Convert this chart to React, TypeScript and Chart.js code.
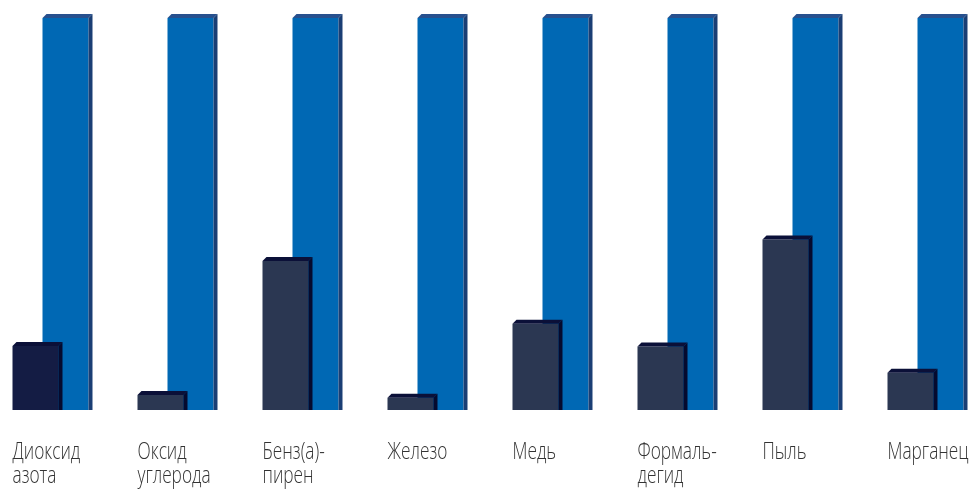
import React, { useEffect, useRef } from "react";
import { Chart, registerables } from "chart.js";

Chart.register(...registerables);

const categories: string[][] = [
  ["Диоксид", "азота"],
  ["Оксид", "углерода"],
  ["Бенз(а)-", "пирен"],
  ["Железо"],
  ["Медь"],
  ["Формаль-", "дегид"],
  ["Пыль"],
  ["Марганец"],
];
const actualValues: number[] = [16.3, 3.8, 38.0, 3.1, 22.0, 16.2, 43.5, 9.5];
const normValues: number[] = [100, 100, 100, 100, 100, 100, 100, 100];
const actualColors: string[] = ["#141c44", "#2b3752", "#2b3752", "#2b3752", "#2b3752", "#2b3752", "#2b3752", "#2b3752"];

const DEPTH = 4;
const sideColors = ["#050a2e", "#1a3e74"];
const topColors = ["#0b1038", "#27508e"];

const bar3d = {
  id: "bar3d",
  afterDatasetDraw(chart: any, args: any) {
    const ctx = chart.ctx;
    const meta = args.meta;
    const di = args.index;
    ctx.save();
    meta.data.forEach((el: any) => {
      const p = el.getProps(["x", "y", "base", "width"], true);
      const l = p.x - p.width / 2;
      const r = p.x + p.width / 2;
      const t = p.y;
      const b = p.base;
      ctx.fillStyle = topColors[di];
      ctx.beginPath();
      ctx.moveTo(l, t);
      ctx.lineTo(l + DEPTH, t - DEPTH);
      ctx.lineTo(r + DEPTH, t - DEPTH);
      ctx.lineTo(r, t);
      ctx.closePath();
      ctx.fill();
      ctx.fillStyle = sideColors[di];
      ctx.beginPath();
      ctx.moveTo(r, t);
      ctx.lineTo(r + DEPTH, t - DEPTH);
      ctx.lineTo(r + DEPTH, b);
      ctx.lineTo(r, b);
      ctx.closePath();
      ctx.fill();
    });
    ctx.restore();
  },
  afterDraw(chart: any) {
    const ctx = chart.ctx;
    const meta = chart.getDatasetMeta(0);
    ctx.save();
    ctx.fillStyle = "#333333";
    ctx.font = "300 24px 'Open Sans'";
    ctx.textAlign = "left";
    ctx.textBaseline = "alphabetic";
    meta.data.forEach((el: any, i: number) => {
      const p = el.getProps(["x", "width"], true);
      const left = p.x - p.width / 2;
      categories[i].forEach((line, j) => {
        ctx.save();
        ctx.translate(left, 459 + j * 24);
        ctx.scale(0.72, 1);
        ctx.fillText(line, 0, 0);
        ctx.restore();
      });
    });
    ctx.restore();
  },
};

export default function App() {
  const ref = useRef<HTMLCanvasElement>(null);
  useEffect(() => {
    if (!ref.current) return;
    const chart = new Chart(ref.current, {
      type: "bar",
      data: {
        labels: categories.map((c) => c.join(" ")),
        datasets: [
          {
            data: actualValues,
            backgroundColor: actualColors,
            borderWidth: 0,
            categoryPercentage: 0.48,
            barPercentage: 1.5333,
          },
          {
            data: normValues,
            backgroundColor: "#0068b4",
            borderWidth: 0,
            categoryPercentage: 0.48,
            barPercentage: 1.5333,
          },
        ],
      },
      options: {
        animation: false,
        responsive: false,
        layout: { padding: { top: 18, bottom: 80, left: 0, right: 0 } },
        plugins: { legend: { display: false }, tooltip: { enabled: false } },
        scales: {
          x: { display: false },
          y: { display: false, min: 0, max: 100 },
        },
      },
      plugins: [bar3d],
    });
    return () => chart.destroy();
  }, []);
  return (
    <div style={{ position: "fixed", left: 0, top: 0, width: 970, height: 490, overflow: "hidden", background: "#fff" }}>
      <div style={{ position: "absolute", left: -12, top: 0, width: 1000, height: 490 }}>
        <canvas ref={ref} width={1000} height={490} />
      </div>
    </div>
  );
}
